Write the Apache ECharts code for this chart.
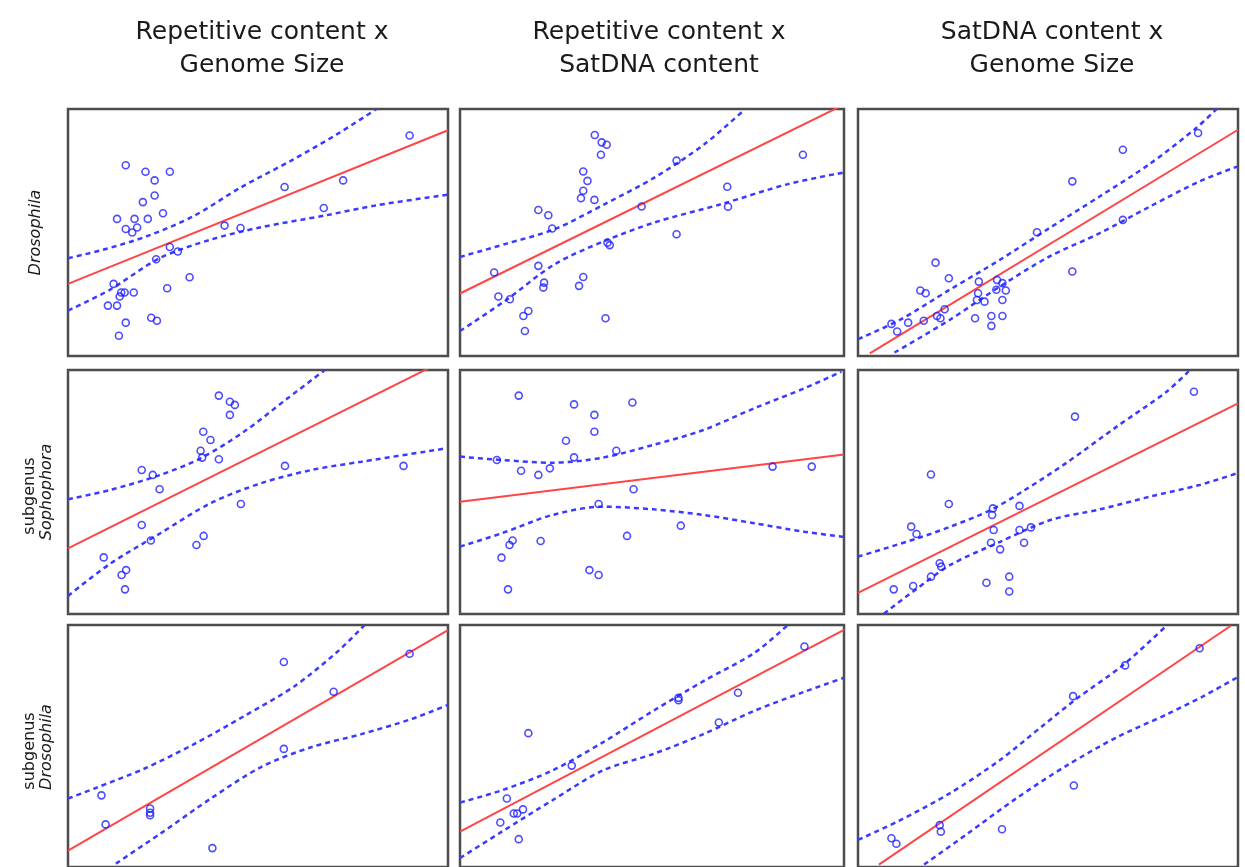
<!DOCTYPE html>
<html>
<head>
<meta charset="utf-8">
<script src="https://cdn.jsdelivr.net/npm/echarts@6/dist/echarts.min.js"></script>
<style>
  html, body { margin: 0; padding: 0; background: #fff; }
  #chart { width: 1245px; height: 867px; }
</style>
</head>
<body>
<div id="chart"></div>
<script>
// Column headings and row labels
const colTitles = ['Repetitive content x\nGenome Size', 'Repetitive content x\nSatDNA content', 'SatDNA content x\nGenome Size'];
const rowGroups = [['', 'Drosophila'], ['subgenus', 'Sophophora'], ['subgenus', 'Drosophila']];

// Observations (scaled 0-100 within each panel): [x, y]
const ptsAllRepGs = [[15.2,77.2],[20.4,74.6],[26.8,74.6],[22.8,71.1],[22.8,65.0],[19.7,62.3],[25.0,57.8],[12.9,55.5],[17.5,55.5],[21.0,55.5],[15.2,51.4],[16.9,50.0],[18.2,52.0],[89.9,89.3],[72.4,71.1],[57.0,68.4],[67.3,59.9],[41.2,52.8],[45.4,51.8],[26.8,44.1],[28.9,42.3],[23.2,39.2],[32.0,31.9],[26.1,27.4],[12.0,29.2],[14.0,25.7],[14.9,25.7],[17.3,25.7],[13.6,24.1],[10.5,20.4],[12.9,20.4],[15.2,13.5],[21.9,15.5],[23.4,14.3],[13.4,8.2]];
const ptsAllRepSat = [[35.1,89.5],[36.9,86.5],[38.2,85.5],[36.7,81.5],[32.1,74.7],[33.2,70.9],[32.1,66.9],[31.5,63.9],[35.0,63.2],[20.4,59.1],[23.0,57.0],[24.0,51.6],[56.4,79.1],[89.3,81.5],[69.6,68.5],[69.8,60.4],[47.3,60.5],[56.4,49.3],[38.4,45.9],[39.0,44.9],[8.9,33.8],[20.4,36.5],[21.9,29.7],[21.7,27.7],[32.1,32.0],[31.0,28.4],[10.0,24.1],[13.0,23.0],[17.8,18.2],[16.5,16.2],[16.9,10.1],[37.9,15.3]];
const ptsAllSatGs = [[89.5,90.3],[69.7,83.5],[56.4,70.7],[47.1,50.1],[69.7,55.1],[56.4,34.2],[20.4,37.8],[23.9,31.5],[16.4,26.5],[17.8,25.4],[31.8,30.1],[31.6,25.4],[36.6,30.8],[38.0,29.5],[36.4,26.8],[38.9,26.5],[38.0,22.7],[31.3,22.7],[33.3,22.0],[22.8,18.9],[21.7,15.3],[20.8,16.2],[17.3,14.3],[13.2,13.5],[8.8,13.0],[10.3,9.9],[30.8,15.3],[35.1,16.2],[35.1,12.2],[38.0,16.2]];
const ptsSophRepGs = [[39.7,89.5],[42.6,87.0],[43.9,85.7],[42.6,81.6],[35.6,74.7],[37.5,71.3],[34.9,66.9],[35.3,64.1],[39.7,63.4],[19.4,59.0],[22.3,57.0],[24.1,51.1],[57.1,60.7],[88.3,60.7],[45.5,45.1],[19.4,36.5],[21.8,30.1],[35.7,32.0],[33.8,28.3],[9.4,23.2],[15.3,18.0],[14.1,16.0],[15.0,10.1]];
const ptsSophRepSat = [[15.3,89.5],[29.7,85.9],[35.0,81.6],[44.9,86.7],[35.0,74.7],[27.6,71.0],[40.7,66.9],[29.7,64.2],[9.6,63.1],[15.9,58.7],[20.4,57.0],[23.4,59.7],[81.4,60.4],[91.6,60.4],[45.2,51.1],[36.1,45.1],[57.5,36.2],[43.5,32.0],[13.7,30.1],[12.9,28.3],[21.0,29.9],[10.8,23.1],[33.7,18.0],[36.1,16.0],[12.5,10.1]];
const ptsSophSatGs = [[88.4,91.1],[57.1,80.9],[19.2,57.2],[23.9,45.1],[35.5,43.3],[35.3,40.6],[42.5,44.3],[14.0,35.8],[15.4,32.8],[35.7,34.4],[42.5,34.4],[45.5,35.5],[35.0,29.2],[43.7,29.2],[37.4,26.5],[21.5,20.8],[21.9,19.4],[19.2,15.3],[14.5,11.5],[9.4,10.1],[33.8,12.8],[39.8,15.3],[39.8,9.2]];
const ptsDrosRepGs = [[89.9,88.1],[56.8,84.7],[69.9,72.4],[56.8,48.8],[8.8,29.6],[9.9,17.6],[21.6,24.2],[21.6,22.4],[21.6,21.4],[38.0,7.8]];
const ptsDrosRepSat = [[89.7,91.1],[72.4,72.0],[56.9,69.9],[56.9,68.9],[67.4,59.7],[17.8,55.3],[29.1,41.9],[12.2,28.3],[14.0,22.1],[14.9,22.1],[16.4,23.8],[10.5,18.4],[15.3,11.5]];
const ptsDrosSatGs = [[89.9,90.4],[70.3,83.3],[56.6,70.6],[56.8,33.7],[21.5,17.3],[21.8,14.6],[37.9,15.6],[8.8,11.9],[10.1,9.6]];

// Fitted regression lines (end points)
const fitAllRepGs = [[0,29.2],[100,91.4]];
const fitAllRepSat = [[0,25.3],[100,101.8]];
const fitAllSatGs = [[3.1,1.1],[100,91.6]];
const fitSophRepGs = [[0,26.9],[100,104.7]];
const fitSophRepSat = [[0,46.0],[100,65.4]];
const fitSophSatGs = [[0,8.7],[100,86.3]];
const fitDrosRepGs = [[0,6.8],[100,97.9]];
const fitDrosRepSat = [[0,14.6],[100,98.0]];
const fitDrosSatGs = [[5.5,1.0],[98.1,99.7]];

// Upper confidence limits
const hiAllRepGs = [[0,39.6],[9.2,43.0],[20.6,48.4],[32.9,56.5],[45.2,68.0],[59.2,79.5],[70.6,89.6],[81.1,99.9]];
const hiAllRepSat = [[0,40.1],[11.7,45.3],[24.7,51.4],[37.7,61.5],[50.7,72.3],[63.7,85.8],[74.2,99.9]];
const hiAllSatGs = [[0,6.8],[11,14.6],[24.1,26.8],[37.3,38.9],[50.4,51.8],[63.6,64.6],[76.8,77.8],[89,92.3],[94.3,99.9]];
const hiSophRepGs = [[0,47.0],[11,50.8],[24.3,57.0],[34.9,63.8],[46.3,74.7],[57.8,88.4],[67.5,99.9]];
const hiSophRepSat = [[0,64.5],[10.9,63.1],[24.1,62.0],[37.2,64.1],[50.3,69.3],[63.4,75.4],[76.6,84.3],[89.7,92.5],[99.3,99.3]];
const hiSophSatGs = [[0,23.5],[15.6,31.0],[24.3,35.8],[34.8,42.5],[43.6,50.5],[54.9,62.0],[68.1,76.8],[81.2,91.1],[87.3,99.9]];
const hiDrosRepGs = [[0,28.3],[6.9,32.4],[20,40.6],[33.2,50.8],[46.4,62.4],[59.6,74.7],[71,89.1],[78,99.9]];
const hiDrosRepSat = [[0,26.6],[10.9,31.7],[24.1,39.9],[37.2,51.5],[50.3,64.5],[63.4,76.8],[76.6,88.4],[85.3,99.9]];
const hiDrosSatGs = [[0,11.2],[10.8,19.1],[24,30.3],[37.2,44.0],[48.7,58.5],[57.5,69.5],[69.8,83.5],[81.3,99.9]];

// Lower confidence limits
const loAllRepGs = [[0,18.4],[11,26.8],[24.1,39.6],[37.3,47.0],[50.4,52.0],[68,57.0],[81.1,61.0],[100,65.3]];
const loAllRepSat = [[0,10.1],[11.7,22.3],[24.7,37.2],[37.7,46.6],[50.7,54.1],[68.1,61.5],[85.4,69.6],[100,74.3]];
const loAllSatGs = [[9.6,1.4],[24.1,14.6],[37.3,28.1],[50.4,40.3],[63.6,49.7],[76.8,60.5],[89.9,70.7],[100,76.8]];
const loSophRepGs = [[0,7.4],[11,20.5],[24.3,33.1],[37.5,45.4],[50.8,53.6],[64,59.0],[77.2,62.4],[100,68.0]];
const loSophRepSat = [[0,27.6],[10.9,33.1],[24.1,40.6],[37.2,44.0],[50.3,42.9],[63.4,40.6],[76.6,37.2],[89.7,33.7],[100,31.6]];
const loSophSatGs = [[6.8,0.1],[15.6,10.5],[24.3,20.1],[37.4,29.6],[50.6,38.5],[63.7,42.9],[76.8,48.1],[89.9,52.9],[100,57.8]];
const loDrosRepGs = [[12.6,1.4],[24.4,13.9],[37.6,28.3],[50.8,41.3],[64,49.5],[77.2,54.9],[90.3,61.1],[100,67.0]];
const loDrosRepSat = [[0,3.7],[10.9,14.6],[24.1,27.6],[37.2,39.9],[50.3,46.7],[63.4,54.9],[76.6,64.5],[89.7,72.4],[100,78.2]];
const loDrosSatGs = [[17.4,1.0],[28.4,13.3],[41.6,28.3],[54.9,41.9],[68.1,53.6],[81.3,63.1],[90.9,70.6],[100,78.5]];

const panels = [
  [ptsAllRepGs, fitAllRepGs, hiAllRepGs, loAllRepGs],
  [ptsAllRepSat, fitAllRepSat, hiAllRepSat, loAllRepSat],
  [ptsAllSatGs, fitAllSatGs, hiAllSatGs, loAllSatGs],
  [ptsSophRepGs, fitSophRepGs, hiSophRepGs, loSophRepGs],
  [ptsSophRepSat, fitSophRepSat, hiSophRepSat, loSophRepSat],
  [ptsSophSatGs, fitSophSatGs, hiSophSatGs, loSophSatGs],
  [ptsDrosRepGs, fitDrosRepGs, hiDrosRepGs, loDrosRepGs],
  [ptsDrosRepSat, fitDrosRepSat, hiDrosRepSat, loDrosRepSat],
  [ptsDrosSatGs, fitDrosSatGs, hiDrosSatGs, loDrosSatGs]
];

// Panel geometry (pixels)
const colLeft = [68, 460, 858];
const colWidth = [380, 384, 380];
const rowTop = [109, 370, 625];
const rowHeight = [247, 244, 244];
const colCenter = [257, 654, 1047];

const FONT = '"DejaVu Sans", Verdana, sans-serif';
const BLUE = '#3b3bff';
const RED = '#ff4545';

const grid = [], xAxis = [], yAxis = [], series = [];
panels.forEach((p, i) => {
  const r = Math.floor(i / 3), c = i % 3;
  grid.push({
    left: colLeft[c], top: rowTop[r], width: colWidth[c], height: rowHeight[r],
    show: true, borderColor: '#4d4d4d', borderWidth: 2.5, backgroundColor: '#fff'
  });
  const hidden = { show: false };
  xAxis.push({ type: 'value', gridIndex: i, min: 0, max: 100, axisLine: hidden, axisTick: hidden, axisLabel: hidden, splitLine: hidden });
  yAxis.push({ type: 'value', gridIndex: i, min: 0, max: 100, axisLine: hidden, axisTick: hidden, axisLabel: hidden, splitLine: hidden });
  const [pts, fit, hi, lo] = p;
  [hi, lo].forEach(band => series.push({
    type: 'line', xAxisIndex: i, yAxisIndex: i, data: band, smooth: 0.3,
    showSymbol: false, clip: true,
    lineStyle: { color: BLUE, width: 2.5, type: [5, 4] }, silent: true, z: 2
  }));
  series.push({
    type: 'line', xAxisIndex: i, yAxisIndex: i, data: fit, showSymbol: false, clip: true,
    lineStyle: { color: RED, width: 2 }, silent: true, z: 3
  });
  series.push({
    type: 'scatter', xAxisIndex: i, yAxisIndex: i, data: pts, symbol: 'circle', symbolSize: 7,
    itemStyle: { color: 'rgba(0,0,0,0)', borderColor: '#2020ff', borderWidth: 1.6 }, silent: true, z: 4
  });
});

const title = colTitles.map((t, c) => ({
  text: t, left: colCenter[c], top: 11, textAlign: 'center',
  textStyle: { fontFamily: FONT, fontSize: 25, fontWeight: 'normal', color: '#1a1a1a', lineHeight: 33 }
}));

const labelStyle = (text, italic) => ({
  text, fontFamily: FONT, fontSize: 16, fontStyle: italic ? 'italic' : 'normal',
  fill: '#1a1a1a', align: 'center', verticalAlign: 'middle'
});
const graphic = [];
rowGroups.forEach((g, r) => {
  const cy = rowTop[r] + rowHeight[r] / 2;
  if (g[0]) {
    graphic.push({ type: 'text', x: 30, y: cy + 4, rotation: Math.PI / 2, style: labelStyle(g[0], false) });
    graphic.push({ type: 'text', x: 47, y: cy, rotation: Math.PI / 2, style: labelStyle(g[1], true) });
  } else {
    graphic.push({ type: 'text', x: 36, y: cy, rotation: Math.PI / 2, style: labelStyle(g[1], true) });
  }
});

const chart = echarts.init(document.getElementById('chart'), null, { renderer: 'canvas' });
chart.setOption({ backgroundColor: '#fff', animation: false, title, grid, xAxis, yAxis, series, graphic });
</script>
</body>
</html>
